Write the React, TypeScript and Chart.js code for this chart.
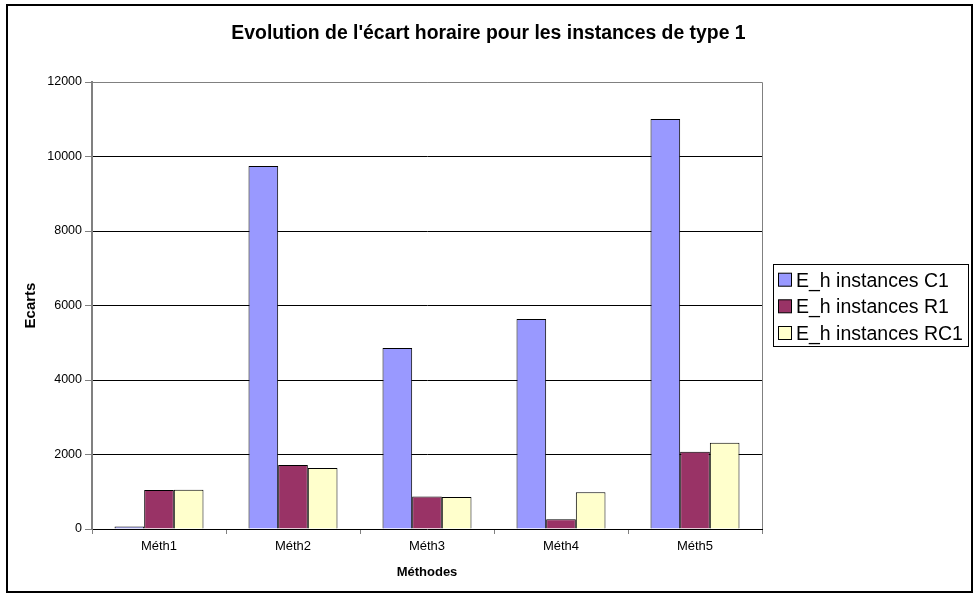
import React, { useEffect, useRef } from "react";
import { Chart, registerables } from "chart.js";

Chart.register(...registerables);

const categories = ["Méth1", "Méth2", "Méth3", "Méth4", "Méth5"];
const seriesNames = ["E_h instances C1", "E_h instances R1", "E_h instances RC1"];
const valuesC1 = [70, 9745, 4860, 5640, 11010];
const valuesR1 = [1045, 1720, 870, 260, 2075];
const valuesRC1 = [1055, 1640, 860, 985, 2315];
const seriesColors = ["#9999FF", "#993366", "#FFFFCC"];
const titleText = "Evolution de l'écart horaire pour les instances de type 1";
const xTitle = "Méthodes";
const yTitle = "Ecarts";
const yMin = 0;
const yMax = 12000;
const yStep = 2000;

const FONT = '"Liberation Sans", Arial, sans-serif';

const decorPlugin = {
  id: "decor",
  beforeDraw(chart: any) {
    const ctx = chart.ctx;
    ctx.save();
    ctx.fillStyle = "#ffffff";
    ctx.fillRect(0, 0, chart.width, chart.height);
    ctx.restore();
  },
  afterDraw(chart: any) {
    const ctx = chart.ctx;
    const a = chart.chartArea;
    ctx.save();
    // plot area top & right border
    ctx.strokeStyle = "#808080";
    ctx.lineWidth = 1;
    ctx.beginPath();
    ctx.moveTo(a.left, a.top + 0.5);
    ctx.lineTo(a.right + 0.5, a.top + 0.5);
    ctx.lineTo(a.right + 0.5, a.bottom);
    ctx.stroke();

    // outer border
    ctx.strokeStyle = "#000000";
    ctx.lineWidth = 2;
    ctx.strokeRect(7, 5, 965, 587);

    // title
    ctx.fillStyle = "#000000";
    ctx.font = `bold 19.4px ${FONT}`;
    ctx.textAlign = "center";
    ctx.textBaseline = "alphabetic";
    ctx.fillText(titleText, 488.5, 39);

    // x title
    ctx.font = `bold 13px ${FONT}`;
    ctx.fillText(xTitle, (a.left + a.right) / 2, 576);

    // y title
    ctx.save();
    ctx.translate(34.5, (a.top + a.bottom) / 2);
    ctx.rotate(-Math.PI / 2);
    ctx.font = `bold 15px ${FONT}`;
    ctx.fillText(yTitle, 0, 0);
    ctx.restore();

    // legend
    ctx.lineWidth = 1;
    ctx.strokeStyle = "#000000";
    ctx.strokeRect(773.5, 264.5, 195, 82);
    const baselines = [286.7, 313.3, 340];
    ctx.font = `19.5px ${FONT}`;
    ctx.textAlign = "left";
    chart.data.datasets.forEach((ds: any, i: number) => {
      const b = baselines[i];
      ctx.fillStyle = ds.backgroundColor;
      ctx.fillRect(778.5, b - 13.5, 13, 13);
      ctx.strokeStyle = "#000000";
      ctx.strokeRect(778.5, b - 13.5, 13, 13);
      ctx.fillStyle = "#000000";
      ctx.fillText(ds.label, 796, b);
    });
    ctx.restore();
  },
};

export default function App() {
  const ref = useRef<HTMLCanvasElement | null>(null);

  useEffect(() => {
    document.body.style.margin = "0";
    const canvas = ref.current;
    if (!canvas) return;
    const values = [valuesC1, valuesR1, valuesRC1];
    const chart = new Chart(canvas, {
      type: "bar",
      data: {
        labels: categories,
        datasets: seriesNames.map((name, i) => ({
          label: name,
          data: values[i],
          backgroundColor: seriesColors[i],
          borderColor: "#000000",
          borderWidth: 1,
          categoryPercentage: 0.664,
          barPercentage: 1,
        })),
      },
      options: {
        responsive: false,
        animation: false,
        devicePixelRatio: 1,
        layout: { padding: { left: 0, top: 82, right: 215, bottom: 0 } },
        plugins: {
          legend: { display: false },
          title: { display: false },
          tooltip: { enabled: false },
        },
        scales: {
          x: {
            type: "category",
            grid: {
              offset: true,
              drawOnChartArea: false,
              drawTicks: true,
              tickLength: 5,
              color: "#808080",
            },
            border: { display: true, color: "#000000", width: 1 },
            ticks: {
              color: "#000000",
              font: { family: FONT, size: 13 },
              padding: 5,
              maxRotation: 0,
            },
            afterFit(scale: any) {
              scale.height = 66;
            },
          },
          y: {
            min: yMin,
            max: yMax,
            grid: {
              color: (c: any) =>
                c.tick && c.tick.value === yMax
                  ? "#808080"
                  : c.tick && c.tick.value === yMin
                  ? "rgba(0,0,0,0)"
                  : "#000000",
              tickColor: "#808080",
              tickLength: 7,
              drawTicks: true,
            },
            border: { display: true, color: "#808080", width: 2 },
            ticks: {
              stepSize: yStep,
              color: "#000000",
              font: { family: FONT, size: 12.5 },
              padding: 3,
              callback: (v: any) => String(v),
            },
            afterFit(scale: any) {
              scale.width = 92;
            },
          },
        },
      },
      plugins: [decorPlugin],
    });
    return () => chart.destroy();
  }, []);

  return (
    <div style={{ width: 977, height: 595 }}>
      <canvas ref={ref} width={977} height={595} style={{ display: "block" }} />
    </div>
  );
}
